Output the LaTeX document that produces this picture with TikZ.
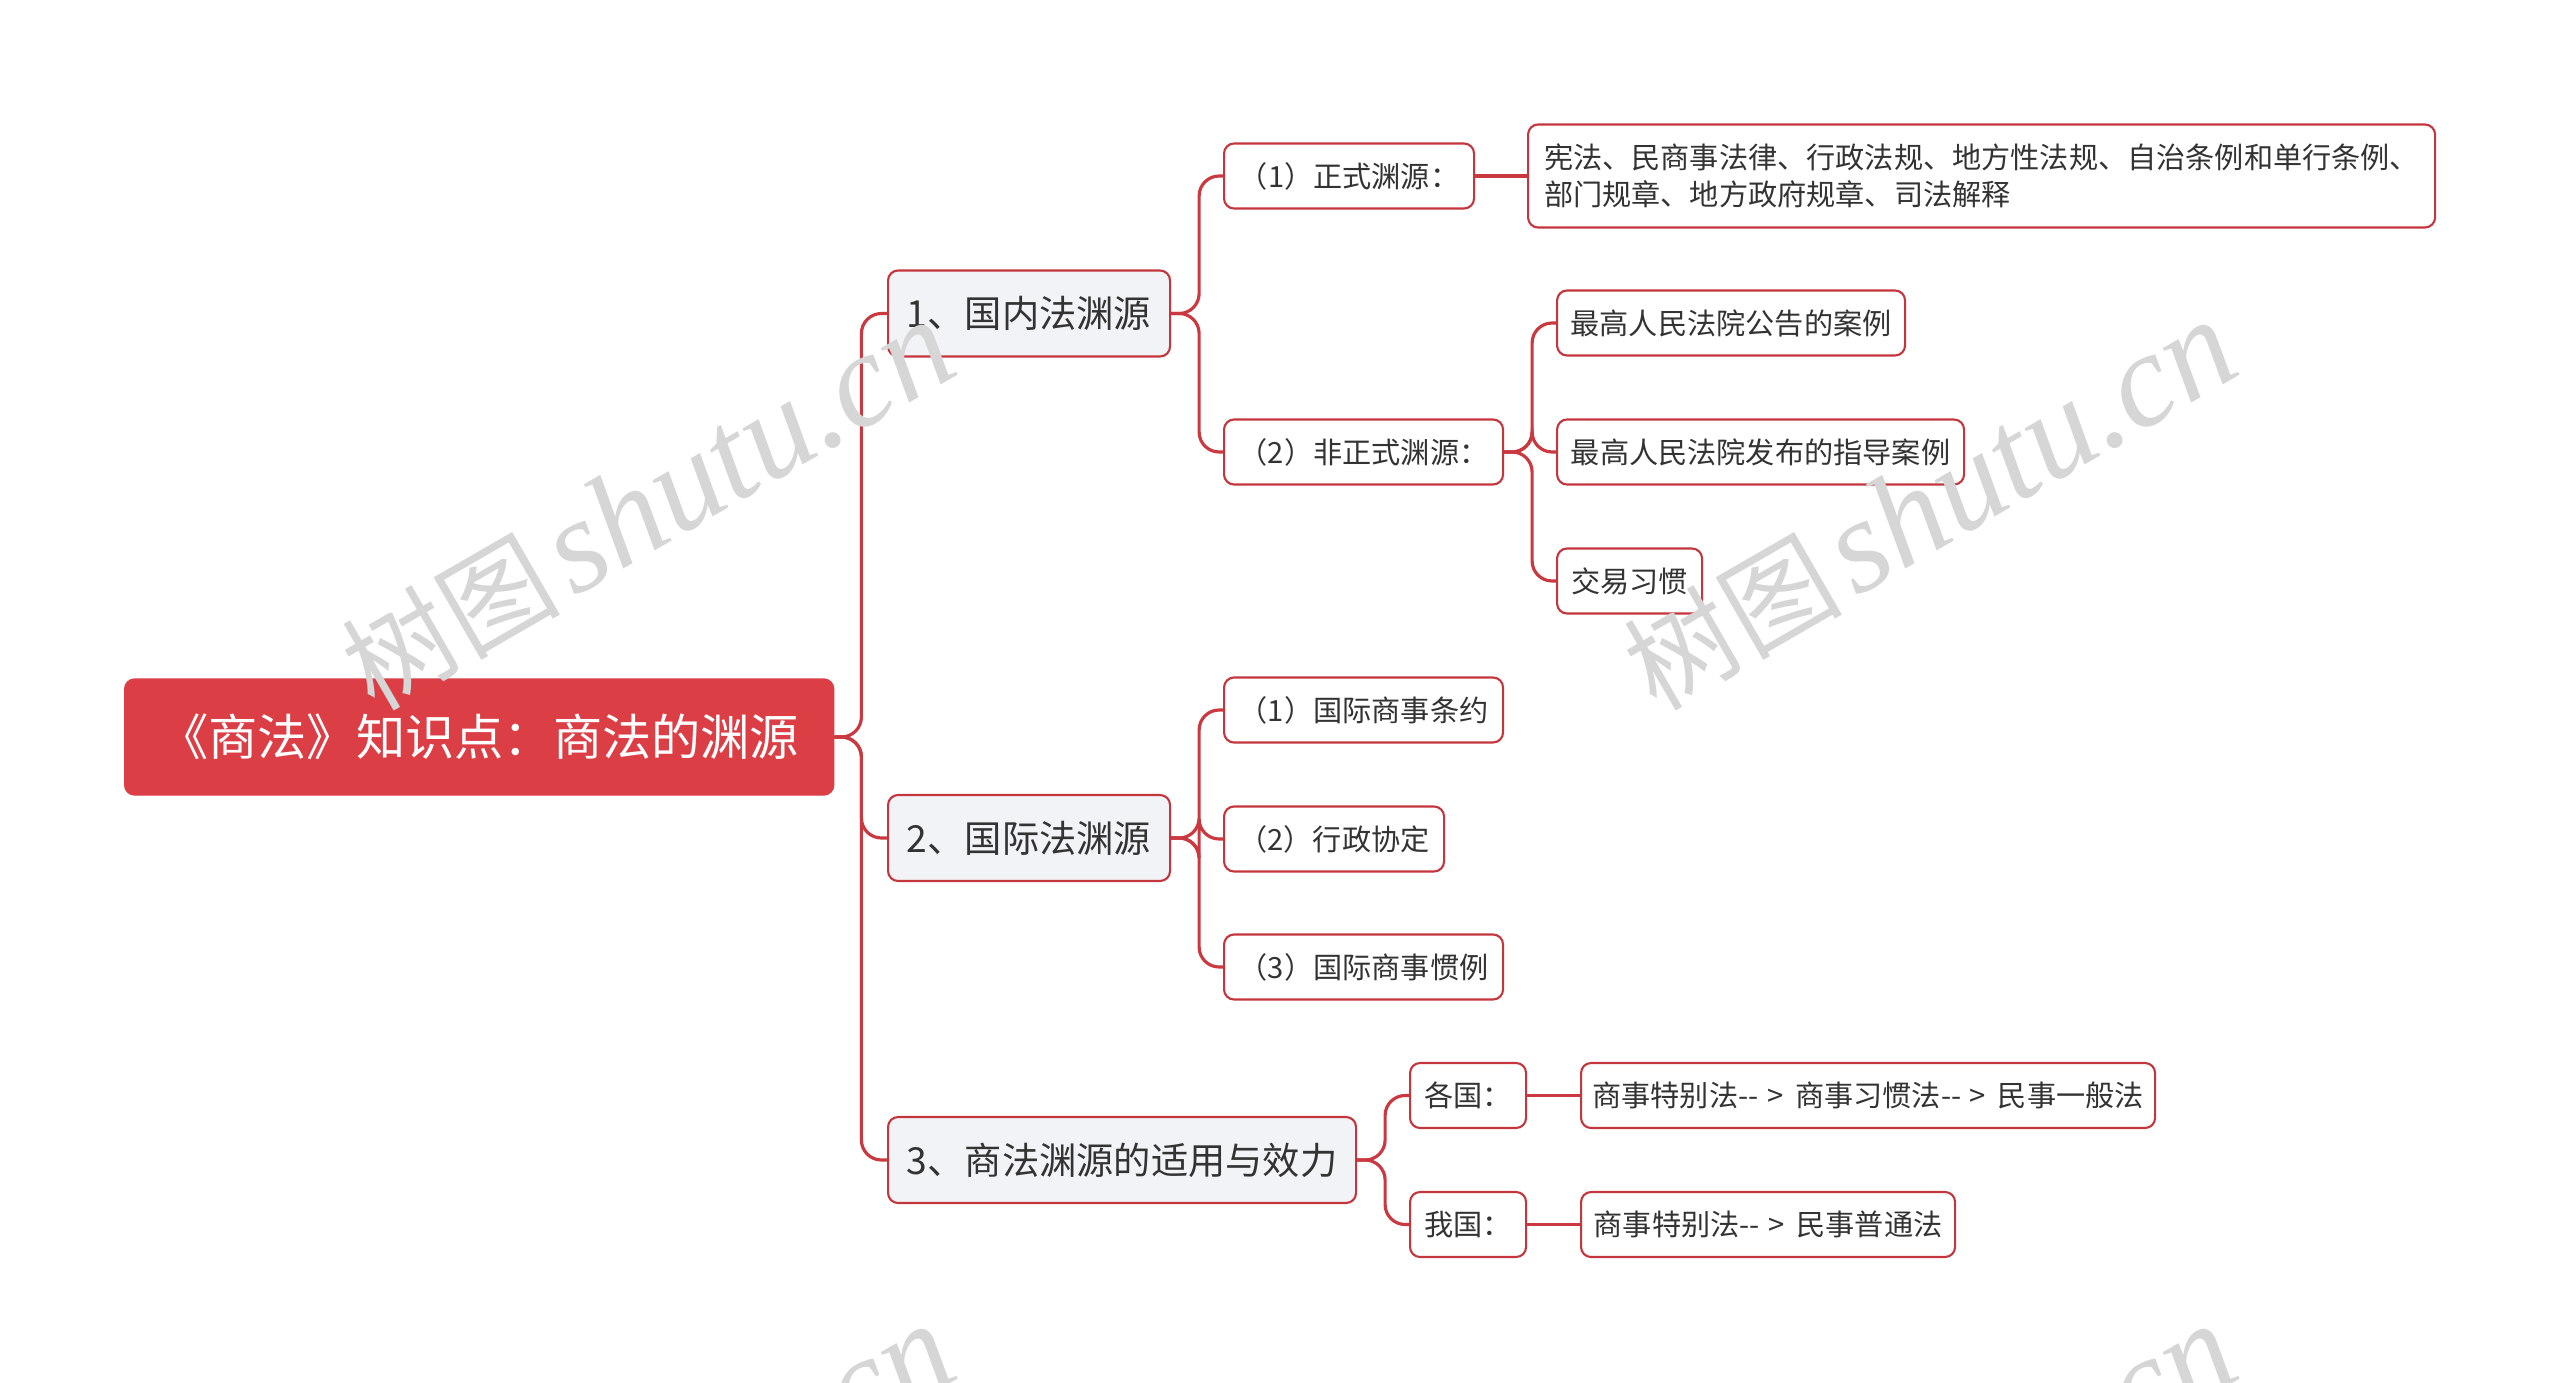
\documentclass[tikz,border=0pt]{standalone}
\usepackage{fontspec}
\usepackage{xcolor}
\usepackage{tikz}
\setmainfont{Noto Sans CJK SC}
\newfontfamily\wmlatin{Liberation Serif}
\definecolor{rootred}{HTML}{DC3E46}
\definecolor{edgered}{HTML}{C4363D}
\definecolor{linkred}{HTML}{CB3940}
\definecolor{palegray}{HTML}{F1F3F6}
\definecolor{darktext}{HTML}{333333}
\newcommand{\toarrow}{-{}-\hspace{0.3em}>\hspace{0.4em}}

\begin{document}
\begin{tikzpicture}[
  rootbox/.style={draw=rootred, fill=rootred, rounded corners=0.1cm, text=white,
    font=\fontsize{14}{16}\selectfont, minimum height=1.16cm, anchor=west, inner sep=0pt},
  topicbox/.style={draw=edgered, line width=0.6pt, fill=palegray, rounded corners=0.1cm,
    text=darktext, font=\fontsize{10.6}{13}\selectfont, minimum height=0.86cm, anchor=west, inner sep=0pt},
  subbox/.style={draw=edgered, line width=0.6pt, fill=white, rounded corners=0.1cm,
    text=darktext, font=\fontsize{8.3}{10.6}\selectfont, minimum height=0.65cm, anchor=west,
    inner xsep=0.04cm, inner ysep=0pt},
  link/.style={draw=linkred, line width=0.9pt, rounded corners=0.2cm},
  wmark/.style={text=black!16, rotate=30, inner sep=0pt}
]
  \useasboundingbox (0,0) rectangle (25.6,-13.83);
  \clip (0,0) rectangle (25.6,-13.83);

  \node[rootbox, minimum width=7.09cm] (root) at (1.24,-7.37) {《商法》知识点：商法的渊源};

  \node[topicbox, minimum width=2.82cm] (dom) at (8.87,-3.135) {1、国内法渊源};
  \node[topicbox, minimum width=2.82cm] (intl) at (8.87,-8.38) {2、国际法渊源};
  \node[topicbox, minimum width=4.68cm] (apply) at (8.87,-11.60) {3、商法渊源的适用与效力};

  \node[subbox, minimum width=2.50cm] (formal) at (12.23,-1.76) {（1）正式渊源：};
  \node[subbox, minimum width=2.79cm] (informal) at (12.23,-4.52) {（2）非正式渊源：};
  \node[subbox, minimum width=9.07cm, minimum height=1.03cm, align=left] (formallist) at (15.27,-1.76)
    {宪法、民商事法律、行政法规、地方性法规、自治条例和单行条例、\\部门规章、地方政府规章、司法解释};
  \node[subbox, minimum width=3.48cm] (case1) at (15.56,-3.23) {最高人民法院公告的案例};
  \node[subbox, minimum width=4.07cm] (case2) at (15.56,-4.52) {最高人民法院发布的指导案例};
  \node[subbox, minimum width=1.45cm] (custom) at (15.56,-5.81) {交易习惯};

  \node[subbox, minimum width=2.79cm] (treaty) at (12.23,-7.10) {（1）国际商事条约};
  \node[subbox, minimum width=2.20cm] (agree) at (12.23,-8.39) {（2）行政协定};
  \node[subbox, minimum width=2.79cm] (usage) at (12.23,-9.67) {（3）国际商事惯例};

  \node[subbox, minimum width=1.16cm] (each) at (14.09,-10.955) {各国：};
  \node[subbox, minimum width=1.16cm] (ours) at (14.09,-12.245) {我国：};
  \node[subbox, minimum width=5.74cm] (eachorder) at (15.80,-10.955)
    {商事特别法\toarrow 商事习惯法\toarrow 民事一般法};
  \node[subbox, minimum width=3.74cm] (oursorder) at (15.80,-12.245)
    {商事特别法\toarrow 民事普通法};

  \foreach \t in {dom,intl,apply}
    \draw[link] (root.east) -- ++(0.27,0) |- (\t.west);
  \foreach \t in {formal,informal}
    \draw[link] (dom.east) -- ++(0.28,0) |- (\t.west);
  \draw[link] (formal.east) -- (formallist.west);
  \foreach \t in {case1,case2,custom}
    \draw[link] (informal.east) -- ++(0.28,0) |- (\t.west);
  \foreach \t in {treaty,agree,usage}
    \draw[link] (intl.east) -- ++(0.28,0) |- (\t.west);
  \foreach \t in {each,ours}
    \draw[link] (apply.east) -- ++(0.28,0) |- (\t.west);
  \draw[link] (each.east) -- (eachorder.west);
  \draw[link] (ours.east) -- (oursorder.west);

  \foreach \x/\y [count=\i] in {6.48/-5.06,19.30/-5.06,6.48/-15.10,19.30/-15.10}
    \node[wmark] (wm\i) at (\x,\y)
      {{\fontsize{31}{31}\selectfont 树图}\hspace{0.35em}{\wmlatin\itshape\fontsize{38}{38}\selectfont shutu.cn}};
\end{tikzpicture}
\end{document}
